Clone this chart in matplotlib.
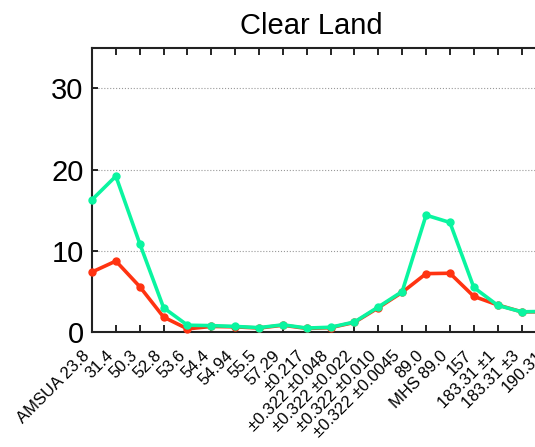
import matplotlib
matplotlib.use('Agg')
import matplotlib.pyplot as plt
import matplotlib.transforms as mtransforms

plt.rcParams['font.family'] = ['Liberation Sans', 'DejaVu Sans']

channels = ['AMSUA 23.8', '31.4', '50.3', '52.8', '53.6', '54.4', '54.94', '55.5',
            '57.29', '±0.217', '±0.322 ±0.048', '±0.322 ±0.022', '±0.322 ±0.010',
            '±0.322 ±0.0045', '89.0', 'MHS 89.0', '157', '183.31 ±1', '183.31 ±3',
            '190.31']

# error statistics per channel
red_vals = [7.4, 8.75, 5.6, 1.85, 0.4, 0.7, 0.65, 0.5, 0.85, 0.45, 0.55, 1.2,
            3.0, 4.9, 7.2, 7.25, 4.4, 3.35, 2.5, 2.5]
green_vals = [16.3, 19.2, 10.9, 3.0, 0.85, 0.8, 0.7, 0.55, 0.9, 0.5, 0.6, 1.25,
              3.1, 5.0, 14.4, 13.5, 5.5, 3.3, 2.5, 2.55]

fig = plt.figure(figsize=(5.35, 4.47), dpi=100)
ax = fig.add_axes([0.172, 0.257, 0.892, 0.636])

x = list(range(len(channels)))
ax.plot(x, red_vals, '-o', color='#ff3311', lw=2.6, ms=5, clip_on=False, zorder=3)
ax.plot(x, green_vals, '-o', color='#0af5a0', lw=2.6, ms=5, clip_on=False, zorder=4)

ax.set_xlim(0, 20)
ax.set_ylim(0, 35)
ax.set_yticks([0, 10, 20, 30])
ax.set_xticks(x)
ax.set_xticklabels([])

# slanted channel labels, set down and to the left of each tick
shift = mtransforms.ScaledTranslation(-0.10, -0.16, fig.dpi_scale_trans)
trans = ax.get_xaxis_transform() + shift
for i, name in zip(x, channels):
    ax.text(i, 0, name, transform=trans, rotation=45, ha='right', va='top',
            rotation_mode='anchor', fontsize=12, clip_on=False)

ax.tick_params(axis='y', labelsize=21, direction='in', length=4, width=1.2, pad=6)
ax.tick_params(axis='x', direction='in', length=5, width=1.2, top=True)
ax.yaxis.grid(True, linestyle=':', color='#999999', lw=0.8)
for s in ax.spines.values():
    s.set_linewidth(1.5)
    s.set_color('#222222')

ax.set_title('Clear Land', fontsize=21, pad=10, x=0.459)

fig.savefig('out.png', dpi=100)
